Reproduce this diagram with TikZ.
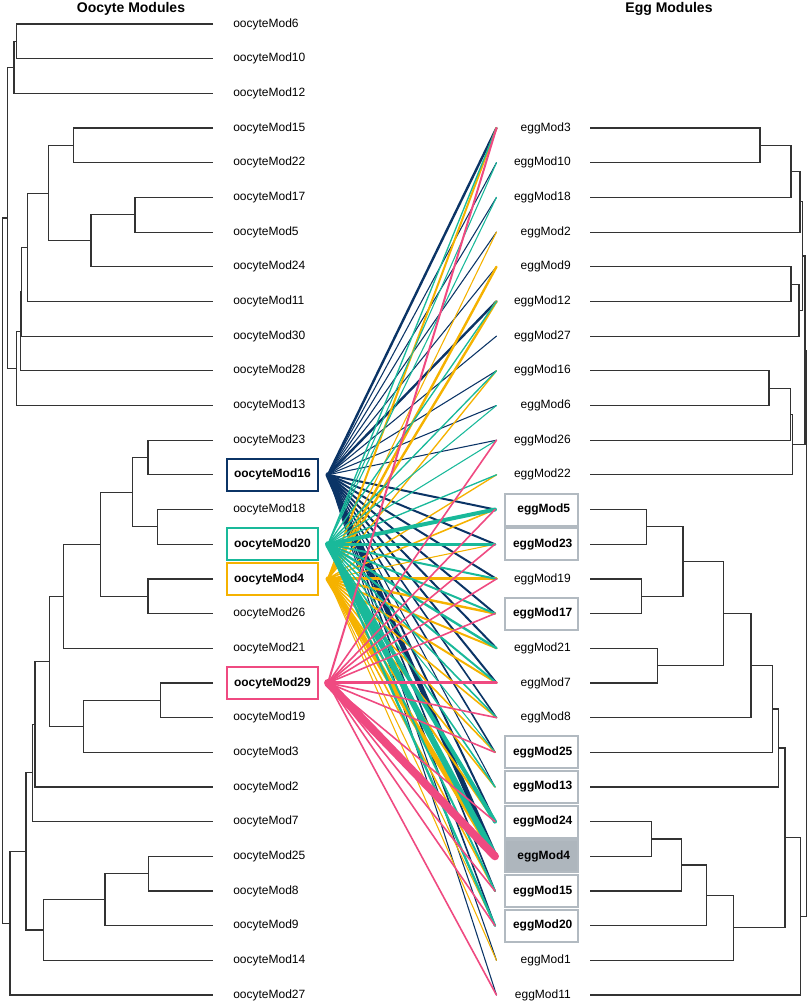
\documentclass[tikz,border=0pt]{standalone}
\usepackage{fontspec}
\setmainfont{Liberation Sans}
\definecolor{NavyMod}{HTML}{0B3466}
\definecolor{TealMod}{HTML}{19B99A}
\definecolor{GoldMod}{HTML}{F5B200}
\definecolor{PinkMod}{HTML}{EF4A81}
\definecolor{BoxGray}{HTML}{B2BAC1}
\definecolor{BoxFill}{HTML}{AEB6BD}
\tikzset{
  oolab/.style={anchor=west, inner xsep=5.25pt, inner ysep=0pt, text width=57.75pt, align=left, minimum height=24pt, font=\fontsize{9}{10}\selectfont},
  ooboxed/.style={oolab, draw=#1, line width=1.5pt, font=\bfseries\fontsize{9}{10}\selectfont},
  egglab/.style={anchor=east, inner xsep=6pt, inner ysep=0pt, text width=42.75pt, align=right, minimum height=24pt, font=\fontsize{9}{10}\selectfont},
  eggboxed/.style={egglab, draw=BoxGray, line width=1.5pt, font=\bfseries\fontsize{9}{10}\selectfont},
  branch/.style={draw=black!80, line width=0.9pt},
  link/.style={line cap=round},
  headline/.style={font=\bfseries\fontsize{10.5}{12}\selectfont, inner sep=0pt},
}
\begin{document}
\begin{tikzpicture}[x=0.75pt,y=0.75pt,yscale=-1,xscale=1]
\useasboundingbox (0,0) rectangle (809,1004);

% Text Node
\node[headline] (ootitle) at (131,9) {Oocyte Modules};
% Text Node
\node[headline] (eggtitle) at (669,9) {Egg Modules};

% Text Node  (oocyte modules)
\node[oolab] (oc6) at (226,24.0) {oocyteMod6};
\node[oolab] (oc10) at (226,58.7) {oocyteMod10};
\node[oolab] (oc12) at (226,93.4) {oocyteMod12};
\node[oolab] (oc15) at (226,128.0) {oocyteMod15};
\node[oolab] (oc22) at (226,162.7) {oocyteMod22};
\node[oolab] (oc17) at (226,197.4) {oocyteMod17};
\node[oolab] (oc5) at (226,232.1) {oocyteMod5};
\node[oolab] (oc24) at (226,266.8) {oocyteMod24};
\node[oolab] (oc11) at (226,301.4) {oocyteMod11};
\node[oolab] (oc30) at (226,336.1) {oocyteMod30};
\node[oolab] (oc28) at (226,370.8) {oocyteMod28};
\node[oolab] (oc13) at (226,405.5) {oocyteMod13};
\node[oolab] (oc23) at (226,440.2) {oocyteMod23};
\node[ooboxed=NavyMod] (oc16) at (226,474.8) {oocyteMod16};
\node[oolab] (oc18) at (226,509.5) {oocyteMod18};
\node[ooboxed=TealMod] (oc20) at (226,544.2) {oocyteMod20};
\node[ooboxed=GoldMod] (oc4) at (226,578.9) {oocyteMod4};
\node[oolab] (oc26) at (226,613.5) {oocyteMod26};
\node[oolab] (oc21) at (226,648.2) {oocyteMod21};
\node[ooboxed=PinkMod] (oc29) at (226,682.9) {oocyteMod29};
\node[oolab] (oc19) at (226,717.6) {oocyteMod19};
\node[oolab] (oc3) at (226,752.3) {oocyteMod3};
\node[oolab] (oc2) at (226,786.9) {oocyteMod2};
\node[oolab] (oc7) at (226,821.6) {oocyteMod7};
\node[oolab] (oc25) at (226,856.3) {oocyteMod25};
\node[oolab] (oc8) at (226,891.0) {oocyteMod8};
\node[oolab] (oc9) at (226,925.7) {oocyteMod9};
\node[oolab] (oc14) at (226,960.3) {oocyteMod14};
\node[oolab] (oc27) at (226,995.0) {oocyteMod27};

% Text Node  (egg modules)
\node[egglab] (eg3) at (579,128.0) {eggMod3};
\node[egglab] (eg10) at (579,162.7) {eggMod10};
\node[egglab] (eg18) at (579,197.4) {eggMod18};
\node[egglab] (eg2) at (579,232.1) {eggMod2};
\node[egglab] (eg9) at (579,266.8) {eggMod9};
\node[egglab] (eg12) at (579,301.4) {eggMod12};
\node[egglab] (eg27) at (579,336.1) {eggMod27};
\node[egglab] (eg16) at (579,370.8) {eggMod16};
\node[egglab] (eg6) at (579,405.5) {eggMod6};
\node[egglab] (eg26) at (579,440.2) {eggMod26};
\node[egglab] (eg22) at (579,474.8) {eggMod22};
\node[eggboxed] (eg5) at (579,509.5) {eggMod5};
\node[eggboxed] (eg23) at (579,544.2) {eggMod23};
\node[egglab] (eg19) at (579,578.9) {eggMod19};
\node[eggboxed] (eg17) at (579,613.5) {eggMod17};
\node[egglab] (eg21) at (579,648.2) {eggMod21};
\node[egglab] (eg7) at (579,682.9) {eggMod7};
\node[egglab] (eg8) at (579,717.6) {eggMod8};
\node[eggboxed] (eg25) at (579,752.3) {eggMod25};
\node[eggboxed] (eg13) at (579,786.9) {eggMod13};
\node[eggboxed] (eg24) at (579,821.6) {eggMod24};
\node[eggboxed, fill=BoxFill] (eg4) at (579,856.3) {eggMod4};
\node[eggboxed] (eg15) at (579,891.0) {eggMod15};
\node[eggboxed] (eg20) at (579,925.7) {eggMod20};
\node[egglab] (eg1) at (579,960.3) {eggMod1};
\node[egglab] (eg11) at (579,995.0) {eggMod11};

%Tree Lines (oocyte dendrogram)
\draw[branch] (213,24.0) -| (16.7,58.7) -- (213,58.7);
\draw[branch] (16.7,41.35) -| (14,93.4) -- (213,93.4);
\draw[branch] (213,128.0) -| (73.3,162.7) -- (213,162.7);
\draw[branch] (213,197.4) -| (135,232.1) -- (213,232.1);
\draw[branch] (135,214.75) -| (91,266.8) -- (213,266.8);
\draw[branch] (73.3,145.35) -| (48.3,240.8) -- (91,240.8);
\draw[branch] (48.3,193.1) -| (27.7,301.4) -- (213,301.4);
\draw[branch] (27.7,247.25) -| (21.7,336.1) -- (213,336.1);
\draw[branch] (21.7,291.7) -| (20.7,370.8) -- (213,370.8);
\draw[branch] (20.7,331.25) -| (16.7,405.5) -- (213,405.5);
\draw[branch] (14,67.4) -| (7.3,368.4) -- (16.7,368.4);
\draw[branch] (213,440.2) -| (148,474.8) -- (213,474.8);
\draw[branch] (213,509.5) -| (157.7,544.2) -- (213,544.2);
\draw[branch] (148,457.5) -| (132.7,526.85) -- (157.7,526.85);
\draw[branch] (213,578.9) -| (148,613.5) -- (213,613.5);
\draw[branch] (132.7,492.2) -| (100.7,596.2) -- (148,596.2);
\draw[branch] (100.7,544.2) -| (63.3,648.2) -- (213,648.2);
\draw[branch] (213,682.9) -| (160.7,717.6) -- (213,717.6);
\draw[branch] (160.7,700.25) -| (83.3,752.3) -- (213,752.3);
\draw[branch] (63.3,596.2) -| (49.3,726.3) -- (83.3,726.3);
\draw[branch] (49.3,661.25) -| (35,786.9) -- (213,786.9);
\draw[branch] (35,724.1) -| (32.7,821.6) -- (213,821.6);
\draw[branch] (213,856.3) -| (148.7,891.0) -- (213,891.0);
\draw[branch] (148.7,873.65) -| (105,925.7) -- (213,925.7);
\draw[branch] (105,899.7) -| (43.3,960.3) -- (213,960.3);
\draw[branch] (32.7,772.85) -| (26,930.0) -- (43.3,930.0);
\draw[branch] (26,851.4) -| (10,995.0) -- (213,995.0);
\draw[branch] (7.3,217.9) -| (2.7,923.2) -- (10,923.2);

%Tree Lines (egg dendrogram)
\draw[branch] (590,128.0) -| (760,162.7) -- (590,162.7);
\draw[branch] (760,145.35) -| (791,197.4) -- (590,197.4);
\draw[branch] (791,171.4) -| (800,232.1) -- (590,232.1);
\draw[branch] (590,266.8) -| (791,301.4) -- (590,301.4);
\draw[branch] (791,284.1) -| (799,336.1) -- (590,336.1);
\draw[branch] (800,201.75) -| (802.7,310.1) -- (799,310.1);
\draw[branch] (590,370.8) -| (769,405.5) -- (590,405.5);
\draw[branch] (769,388.15) -| (790.7,440.2) -- (590,440.2);
\draw[branch] (790.7,414.2) -| (792.3,474.8) -- (590,474.8);
\draw[branch] (802.7,255.9) -| (805,444.5) -- (792.3,444.5);
\draw[branch] (590,509.5) -| (646.7,544.2) -- (590,544.2);
\draw[branch] (590,578.9) -| (641.3,613.5) -- (590,613.5);
\draw[branch] (646.7,526.85) -| (683,596.2) -- (641.3,596.2);
\draw[branch] (590,648.2) -| (657.3,682.9) -- (590,682.9);
\draw[branch] (683,561.5) -| (723.7,665.55) -- (657.3,665.55);
\draw[branch] (723.7,613.5) -| (751,717.6) -- (590,717.6);
\draw[branch] (751,665.55) -| (772.7,752.3) -- (590,752.3);
\draw[branch] (772.7,708.9) -| (778.3,786.9) -- (590,786.9);
\draw[branch] (590,821.6) -| (651.3,856.3) -- (590,856.3);
\draw[branch] (651.3,838.95) -| (681.7,891.0) -- (590,891.0);
\draw[branch] (681.7,864.95) -| (706.3,925.7) -- (590,925.7);
\draw[branch] (706.3,895.3) -| (733.3,960.3) -- (590,960.3);
\draw[branch] (778.3,747.9) -| (785,927.8) -- (733.3,927.8);
\draw[branch] (785,837.85) -| (800.7,995.0) -- (590,995.0);
\draw[branch] (805,350.2) -| (806.8,916.4) -- (800.7,916.4);

% link ends
\coordinate (p16) at ([xshift=6.75pt]oc16.east);
\coordinate (p20) at ([xshift=6.75pt]oc20.east);
\coordinate (p4) at ([xshift=6.75pt]oc4.east);
\coordinate (p29) at ([xshift=6.75pt]oc29.east);
\coordinate (q3) at ([xshift=-6.75pt]eg3.west);
\coordinate (q10) at ([xshift=-6.75pt]eg10.west);
\coordinate (q18) at ([xshift=-6.75pt]eg18.west);
\coordinate (q2) at ([xshift=-6.75pt]eg2.west);
\coordinate (q9) at ([xshift=-6.75pt]eg9.west);
\coordinate (q12) at ([xshift=-6.75pt]eg12.west);
\coordinate (q27) at ([xshift=-6.75pt]eg27.west);
\coordinate (q16) at ([xshift=-6.75pt]eg16.west);
\coordinate (q6) at ([xshift=-6.75pt]eg6.west);
\coordinate (q26) at ([xshift=-6.75pt]eg26.west);
\coordinate (q22) at ([xshift=-6.75pt]eg22.west);
\coordinate (q5) at ([xshift=-6.75pt]eg5.west);
\coordinate (q23) at ([xshift=-6.75pt]eg23.west);
\coordinate (q19) at ([xshift=-6.75pt]eg19.west);
\coordinate (q17) at ([xshift=-6.75pt]eg17.west);
\coordinate (q21) at ([xshift=-6.75pt]eg21.west);
\coordinate (q7) at ([xshift=-6.75pt]eg7.west);
\coordinate (q8) at ([xshift=-6.75pt]eg8.west);
\coordinate (q25) at ([xshift=-6.75pt]eg25.west);
\coordinate (q13) at ([xshift=-6.75pt]eg13.west);
\coordinate (q24) at ([xshift=-6.75pt]eg24.west);
\coordinate (q4) at ([xshift=-6.75pt]eg4.west);
\coordinate (q15) at ([xshift=-6.75pt]eg15.west);
\coordinate (q20) at ([xshift=-6.75pt]eg20.west);
\coordinate (q1) at ([xshift=-6.75pt]eg1.west);
\coordinate (q11) at ([xshift=-6.75pt]eg11.west);

%Straight Lines (oocyteMod16)
\draw[link, NavyMod, line width=1.8pt] (p16) -- (q3);
\draw[link, NavyMod, line width=0.8pt] (p16) -- (q10);
\draw[link, NavyMod, line width=0.8pt] (p16) -- (q18);
\draw[link, NavyMod, line width=0.8pt] (p16) -- (q2);
\draw[link, NavyMod, line width=0.8pt] (p16) -- (q9);
\draw[link, NavyMod, line width=1.8pt] (p16) -- (q12);
\draw[link, NavyMod, line width=0.8pt] (p16) -- (q27);
\draw[link, NavyMod, line width=0.8pt] (p16) -- (q16);
\draw[link, NavyMod, line width=0.8pt] (p16) -- (q6);
\draw[link, NavyMod, line width=0.8pt] (p16) -- (q26);
\draw[link, NavyMod, line width=1.5pt] (p16) -- (q5);
\draw[link, NavyMod, line width=1.5pt] (p16) -- (q23);
\draw[link, NavyMod, line width=1.5pt] (p16) -- (q19);
\draw[link, NavyMod, line width=1.5pt] (p16) -- (q17);
\draw[link, NavyMod, line width=1.5pt] (p16) -- (q21);
\draw[link, NavyMod, line width=1.5pt] (p16) -- (q7);
\draw[link, NavyMod, line width=1.2pt] (p16) -- (q8);
\draw[link, NavyMod, line width=1.2pt] (p16) -- (q25);
\draw[link, NavyMod, line width=0.8pt] (p16) -- (q13);
\draw[link, NavyMod, line width=1.5pt] (p16) -- (q24);
\draw[link, NavyMod, line width=3.8pt] (p16) -- (q4);
\draw[link, NavyMod, line width=1.2pt] (p16) -- (q15);
\draw[link, NavyMod, line width=1.2pt] (p16) -- (q20);
\draw[link, NavyMod, line width=0.8pt] (p16) -- (q1);
\draw[link, NavyMod, line width=0.8pt] (p16) -- (q11);

%Straight Lines (oocyteMod4)
\draw[link, GoldMod, line width=1.5pt] (p4) -- (q3);
\draw[link, GoldMod, line width=0.8pt] (p4) -- (q2);
\draw[link, GoldMod, line width=1.8pt] (p4) -- (q9);
\draw[link, GoldMod, line width=1.8pt] (p4) -- (q12);
\draw[link, GoldMod, line width=1.0pt] (p4) -- (q16);
\draw[link, GoldMod, line width=1.0pt] (p4) -- (q22);
\draw[link, GoldMod, line width=1.2pt] (p4) -- (q5);
\draw[link, GoldMod, line width=0.8pt] (p4) -- (q23);
\draw[link, GoldMod, line width=2.2pt] (p4) -- (q19);
\draw[link, GoldMod, line width=1.8pt] (p4) -- (q17);
\draw[link, GoldMod, line width=1.5pt] (p4) -- (q21);
\draw[link, GoldMod, line width=1.5pt] (p4) -- (q7);
\draw[link, GoldMod, line width=1.2pt] (p4) -- (q8);
\draw[link, GoldMod, line width=1.2pt] (p4) -- (q25);
\draw[link, GoldMod, line width=1.2pt] (p4) -- (q13);
\draw[link, GoldMod, line width=1.5pt] (p4) -- (q24);
\draw[link, GoldMod, line width=3.8pt] (p4) -- (q4);
\draw[link, GoldMod, line width=1.2pt] (p4) -- (q15);
\draw[link, GoldMod, line width=0.8pt] (p4) -- (q20);
\draw[link, GoldMod, line width=0.8pt] (p4) -- (q1);

%Straight Lines (oocyteMod20)
\draw[link, TealMod, line width=1.0pt] (p20) -- (q3);
\draw[link, TealMod, line width=0.8pt] (p20) -- (q10);
\draw[link, TealMod, line width=0.8pt] (p20) -- (q18);
\draw[link, TealMod, line width=1.0pt] (p20) -- (q12);
\draw[link, TealMod, line width=1.0pt] (p20) -- (q16);
\draw[link, TealMod, line width=0.8pt] (p20) -- (q6);
\draw[link, TealMod, line width=0.8pt] (p20) -- (q26);
\draw[link, TealMod, line width=1.0pt] (p20) -- (q22);
\draw[link, TealMod, line width=3.0pt] (p20) -- (q5);
\draw[link, TealMod, line width=2.2pt] (p20) -- (q23);
\draw[link, TealMod, line width=1.5pt] (p20) -- (q19);
\draw[link, TealMod, line width=1.5pt] (p20) -- (q17);
\draw[link, TealMod, line width=1.8pt] (p20) -- (q21);
\draw[link, TealMod, line width=1.5pt] (p20) -- (q7);
\draw[link, TealMod, line width=1.2pt] (p20) -- (q8);
\draw[link, TealMod, line width=0.8pt] (p20) -- (q25);
\draw[link, TealMod, line width=1.2pt] (p20) -- (q13);
\draw[link, TealMod, line width=3.0pt] (p20) -- (q24);
\draw[link, TealMod, line width=4.5pt] (p20) -- (q4);
\draw[link, TealMod, line width=1.5pt] (p20) -- (q15);
\draw[link, TealMod, line width=1.8pt] (p20) -- (q20);

%Straight Lines (oocyteMod29)
\draw[link, PinkMod, line width=1.5pt] (p29) -- (q3);
\draw[link, PinkMod, line width=1.2pt] (p29) -- (q26);
\draw[link, PinkMod, line width=1.2pt] (p29) -- (q5);
\draw[link, PinkMod, line width=1.2pt] (p29) -- (q23);
\draw[link, PinkMod, line width=1.2pt] (p29) -- (q19);
\draw[link, PinkMod, line width=1.2pt] (p29) -- (q17);
\draw[link, PinkMod, line width=2.2pt] (p29) -- (q7);
\draw[link, PinkMod, line width=1.2pt] (p29) -- (q8);
\draw[link, PinkMod, line width=1.2pt] (p29) -- (q25);
\draw[link, PinkMod, line width=1.2pt] (p29) -- (q24);
\draw[link, PinkMod, line width=6.0pt] (p29) -- (q4);
\draw[link, PinkMod, line width=1.2pt] (p29) -- (q15);
\draw[link, PinkMod, line width=1.2pt] (p29) -- (q20);
\draw[link, PinkMod, line width=1.2pt] (p29) -- (q11);

\end{tikzpicture}
\end{document}
